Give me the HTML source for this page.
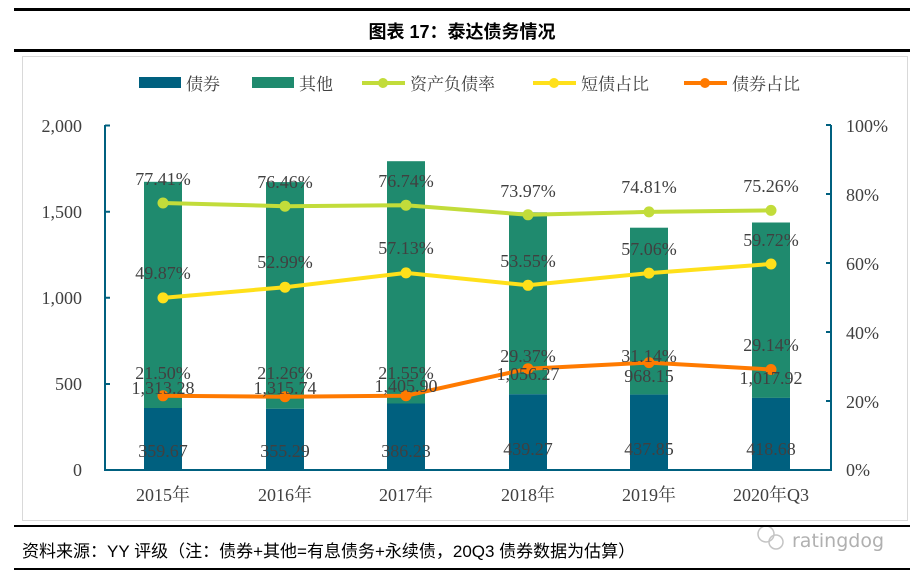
<!DOCTYPE html>
<html><head><meta charset="utf-8"><style>
body{margin:0;background:#fff;width:924px;height:578px;overflow:hidden;position:relative;font-family:"Liberation Sans","Noto Sans CJK SC",sans-serif}
.r{position:absolute;left:14px;width:896px;background:#000}
</style></head><body>
<div class="r" style="top:8px;height:3px"></div>
<div style="position:absolute;top:18px;left:0;width:924px;text-align:center;font-weight:bold;font-size:18px;">图表 17：泰达债务情况</div>
<div class="r" style="top:49px;height:3px"></div>
<div style="position:absolute;left:22px;top:56px;width:886px;height:465px;border:1px solid #d9d9d9;box-sizing:border-box"></div>
<svg style="position:absolute;left:0;top:0" width="924" height="578" font-family="Liberation Serif,Noto Serif CJK SC,serif" font-size="18" fill="#404040">
<g font-family="Liberation Serif,Noto Serif CJK SC,serif" font-size="17">
<rect x="139" y="77" width="42" height="11" fill="#00607F"/><text x="186" y="90">债券</text>
<rect x="252" y="77" width="42" height="11" fill="#1F8A6E"/><text x="299" y="90">其他</text>
<line x1="362" y1="83" x2="405" y2="83" stroke="#C2DC3A" stroke-width="4"/><circle cx="383" cy="83" r="5" fill="#C2DC3A"/><text x="410" y="90">资产负债率</text>
<line x1="533" y1="83" x2="576" y2="83" stroke="#FFE01A" stroke-width="4"/><circle cx="554" cy="83" r="5" fill="#FFE01A"/><text x="581" y="90">短债占比</text>
<line x1="684" y1="83" x2="727" y2="83" stroke="#FF7A00" stroke-width="4"/><circle cx="705" cy="83" r="5" fill="#FF7A00"/><text x="732" y="90">债券占比</text>
</g>
<g fill="#1F8A6E">
<rect x="144" y="181.8" width="38" height="226.2"/><rect x="266" y="182.1" width="38" height="226.7"/><rect x="387" y="161.2" width="38" height="242.3"/><rect x="509" y="212.3" width="38" height="182"/><rect x="630" y="227.7" width="38" height="166.9"/><rect x="752" y="222.5" width="38" height="175.4"/>
</g>
<g fill="#00607F">
<rect x="144" y="408" width="38" height="62"/><rect x="266" y="408.8" width="38" height="61.2"/><rect x="387" y="403.5" width="38" height="66.5"/><rect x="509" y="394.3" width="38" height="75.7"/><rect x="630" y="394.6" width="38" height="75.4"/><rect x="752" y="397.9" width="38" height="72.1"/>
</g>
<g stroke="#00607F" stroke-width="2" fill="none">
<path d="M105,125V470H831V125"/>
<path d="M105,125.5h5M105,211.7h5M105,297.8h5M105,384h5M831,125h-5M831,194h-5M831,263h-5M831,332h-5M831,401h-5"/>
</g>
<polyline points="163,203 285,206.2 406,205.2 528,214.8 649,211.9 771,210.4" fill="none" stroke="#C2DC3A" stroke-width="4"/>
<polyline points="163,297.9 285,287.2 406,272.9 528,285.3 649,273.1 771,264" fill="none" stroke="#FFE01A" stroke-width="4"/>
<polyline points="163,395.8 285,396.7 406,395.7 528,368.7 649,362.6 771,369.5" fill="none" stroke="#FF7A00" stroke-width="4"/>
<g fill="#C2DC3A"><circle cx="163" cy="203" r="5.5"/><circle cx="285" cy="206.2" r="5.5"/><circle cx="406" cy="205.2" r="5.5"/><circle cx="528" cy="214.8" r="5.5"/><circle cx="649" cy="211.9" r="5.5"/><circle cx="771" cy="210.4" r="5.5"/></g>
<g fill="#FFE01A"><circle cx="163" cy="297.9" r="5.5"/><circle cx="285" cy="287.2" r="5.5"/><circle cx="406" cy="272.9" r="5.5"/><circle cx="528" cy="285.3" r="5.5"/><circle cx="649" cy="273.1" r="5.5"/><circle cx="771" cy="264" r="5.5"/></g>
<g fill="#FF7A00"><circle cx="163" cy="395.8" r="5.5"/><circle cx="285" cy="396.7" r="5.5"/><circle cx="406" cy="395.7" r="5.5"/><circle cx="528" cy="368.7" r="5.5"/><circle cx="649" cy="362.6" r="5.5"/><circle cx="771" cy="369.5" r="5.5"/></g>
<g text-anchor="middle">
<text x="163" y="185">77.41%</text><text x="285" y="188">76.46%</text><text x="406" y="187">76.74%</text><text x="528" y="197">73.97%</text><text x="649" y="193">74.81%</text><text x="771" y="192">75.26%</text>
<text x="163" y="279">49.87%</text><text x="285" y="268">52.99%</text><text x="406" y="254">57.13%</text><text x="528" y="267">53.55%</text><text x="649" y="255">57.06%</text><text x="771" y="246">59.72%</text>
<text x="163" y="379">21.50%</text><text x="285" y="379">21.26%</text><text x="406" y="379">21.55%</text><text x="528" y="362">29.37%</text><text x="649" y="362">31.14%</text><text x="771" y="351">29.14%</text>
<text x="163" y="394">1,313.28</text><text x="285" y="394">1,315.74</text><text x="406" y="392">1,405.90</text><text x="528" y="380">1,056.27</text><text x="649" y="382">968.15</text><text x="771" y="384">1,017.92</text>
<text x="163" y="457">359.67</text><text x="285" y="457">355.29</text><text x="406" y="457">386.23</text><text x="528" y="455">439.27</text><text x="649" y="455">437.85</text><text x="771" y="455">418.68</text>
<text x="163" y="501">2015年</text><text x="285" y="501">2016年</text><text x="406" y="501">2017年</text><text x="528" y="501">2018年</text><text x="649" y="501">2019年</text><text x="771" y="501">2020年Q3</text>
</g>
<g text-anchor="end">
<text x="82" y="132">2,000</text><text x="82" y="218">1,500</text><text x="82" y="304">1,000</text><text x="82" y="390">500</text><text x="82" y="476">0</text>
</g>
<g>
<text x="846" y="132">100%</text><text x="846" y="201">80%</text><text x="846" y="270">60%</text><text x="846" y="339">40%</text><text x="846" y="408">20%</text><text x="846" y="476">0%</text>
</g>
<text x="792" y="547" font-family="DejaVu Sans,sans-serif" font-size="19" fill="#b0b0b0">ratingdog</text>
<circle cx="766" cy="534" r="8" fill="none" stroke="#c4c4c4" stroke-width="1.5"/><circle cx="776" cy="542" r="7" fill="none" stroke="#c4c4c4" stroke-width="1.5"/>
</svg>
<div class="r" style="top:525px;height:2px"></div>
<div style="position:absolute;left:22px;top:537px;font-size:17px;color:#000">资料来源：YY 评级（注：债券+其他=有息债务+永续债，20Q3 债券数据为估算）</div>
<div class="r" style="top:568px;height:2px"></div>
</body></html>
